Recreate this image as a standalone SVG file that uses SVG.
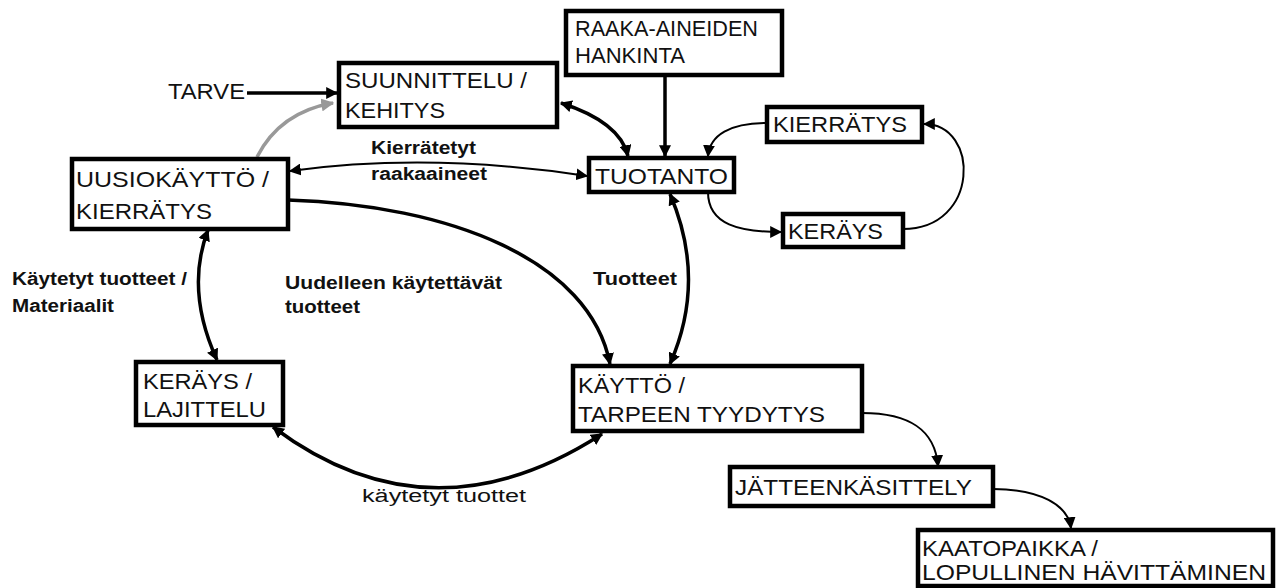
<svg xmlns="http://www.w3.org/2000/svg" width="1285" height="588" viewBox="0 0 1285 588">
<defs>
<style>
.box{fill:#fff;stroke:#000;stroke-width:4.5}
.nt{font-family:"Liberation Sans",Arial,sans-serif;font-size:22px;fill:#111}
.lb{font-family:"Liberation Sans",Arial,sans-serif;font-size:18px;font-weight:bold;fill:#111}
.lr{font-family:"Liberation Sans",Arial,sans-serif;font-size:18px;fill:#111}
.c{fill:none;stroke:#000}
.w3{stroke-width:3.5}
.w2{stroke-width:2}
.g{stroke:#999;stroke-width:3.5}
</style>
<marker id="a" viewBox="0 0 10 10" refX="9" refY="5" markerWidth="12" markerHeight="12" markerUnits="userSpaceOnUse" orient="auto-start-reverse"><path d="M0,0 L10,5 L0,10 z" fill="#000"/></marker>
<marker id="ag" viewBox="0 0 10 10" refX="9" refY="5" markerWidth="13" markerHeight="13" markerUnits="userSpaceOnUse" orient="auto"><path d="M0,0 L10,5 L0,10 z" fill="#999"/></marker>
</defs>
<rect width="1285" height="588" fill="#fff"/>

<g id="connectors">
<path class="c w3" d="M247,93 L337,93" marker-end="url(#a)"/>
<path class="g c" d="M257,157 Q280,112 333,103" marker-end="url(#ag)"/>
<path class="c w3" d="M561,103 Q620,122 628,156" marker-start="url(#a)" marker-end="url(#a)"/>
<path class="c w3" d="M665,75 L665,156" marker-end="url(#a)"/>
<path class="c w2" d="M767,123 C730,123 710,135 708,156" marker-end="url(#a)"/>
<path class="c w2" d="M708,192 C708,225 740,232 781,232" marker-end="url(#a)"/>
<path class="c w2" d="M903,229 C980,229 980,124 924,124" marker-end="url(#a)"/>
<path class="c w2" d="M290,171 Q430,152 587,176" marker-start="url(#a)" marker-end="url(#a)"/>
<path class="c w3" d="M288,200 C450,205 590,260 610,364" marker-end="url(#a)"/>
<path class="c w3" d="M670,194 Q707,280 670,364" marker-start="url(#a)" marker-end="url(#a)"/>
<path class="c w3" d="M208,230 Q185,290 217,360" marker-start="url(#a)" marker-end="url(#a)"/>
<path class="c w3" d="M273,427 Q430,545 602,434" marker-start="url(#a)" marker-end="url(#a)"/>
<path class="c w2" d="M862,413 C910,413 935,430 938,466" marker-end="url(#a)"/>
<path class="c w2" d="M993,489 C1040,489 1068,505 1071,528" marker-end="url(#a)"/>
</g>

<g id="tarve"><text class="nt" x="168" y="99" textLength="77" lengthAdjust="spacingAndGlyphs">TARVE</text></g>

<g id="suunnittelu">
<rect class="box" x="339" y="63" width="218" height="64"/>
<text class="nt" x="345" y="88" textLength="182" lengthAdjust="spacingAndGlyphs">SUUNNITTELU /</text>
<text class="nt" x="345" y="118" textLength="100" lengthAdjust="spacingAndGlyphs">KEHITYS</text>
</g>

<g id="raaka">
<rect class="box" x="566" y="11" width="216" height="64"/>
<text class="nt" x="575" y="36" textLength="183" lengthAdjust="spacingAndGlyphs">RAAKA-AINEIDEN</text>
<text class="nt" x="575" y="63" textLength="110" lengthAdjust="spacingAndGlyphs">HANKINTA</text>
</g>

<g id="tuotanto">
<rect class="box" x="589" y="158" width="145" height="34"/>
<text class="nt" x="595" y="184" textLength="133" lengthAdjust="spacingAndGlyphs">TUOTANTO</text>
</g>

<g id="kierratys2">
<rect class="box" x="767" y="107" width="155" height="35"/>
<text class="nt" x="773" y="132" textLength="134" lengthAdjust="spacingAndGlyphs">KIERRÄTYS</text>
</g>

<g id="kerays2">
<rect class="box" x="783" y="214" width="120" height="33"/>
<text class="nt" x="788" y="239" textLength="95" lengthAdjust="spacingAndGlyphs">KERÄYS</text>
</g>

<g id="uusiokaytto">
<rect class="box" x="72" y="159" width="216" height="70"/>
<text class="nt" x="76" y="187" textLength="193" lengthAdjust="spacingAndGlyphs">UUSIOKÄYTTÖ /</text>
<text class="nt" x="76" y="219" textLength="136" lengthAdjust="spacingAndGlyphs">KIERRÄTYS</text>
</g>

<g id="keraysLajittelu">
<rect class="box" x="136" y="362" width="147" height="63"/>
<text class="nt" x="143" y="389" textLength="109" lengthAdjust="spacingAndGlyphs">KERÄYS /</text>
<text class="nt" x="143" y="417" textLength="123" lengthAdjust="spacingAndGlyphs">LAJITTELU</text>
</g>

<g id="kaytto">
<rect class="box" x="573" y="366" width="289" height="65"/>
<text class="nt" x="578" y="393" textLength="107" lengthAdjust="spacingAndGlyphs">KÄYTTÖ /</text>
<text class="nt" x="578" y="422" textLength="247" lengthAdjust="spacingAndGlyphs">TARPEEN TYYDYTYS</text>
</g>

<g id="jatteenkasittely">
<rect class="box" x="730" y="467" width="263" height="39"/>
<text class="nt" x="735" y="495" textLength="237" lengthAdjust="spacingAndGlyphs">JÄTTEENKÄSITTELY</text>
</g>

<g id="kaatopaikka">
<rect class="box" x="918" y="530" width="355" height="56"/>
<text class="nt" x="922" y="556" textLength="176" lengthAdjust="spacingAndGlyphs">KAATOPAIKKA /</text>
<text class="nt" x="922" y="580" textLength="344" lengthAdjust="spacingAndGlyphs">LOPULLINEN HÄVITTÄMINEN</text>
</g>

<g id="labels">
<text class="lb" x="371" y="154" textLength="105" lengthAdjust="spacingAndGlyphs">Kierrätetyt</text>
<text class="lb" x="371" y="180" textLength="116" lengthAdjust="spacingAndGlyphs">raakaaineet</text>
<text class="lb" x="12" y="285" textLength="175" lengthAdjust="spacingAndGlyphs">Käytetyt tuotteet /</text>
<text class="lb" x="12" y="312" textLength="102" lengthAdjust="spacingAndGlyphs">Materiaalit</text>
<text class="lb" x="285" y="289" textLength="217" lengthAdjust="spacingAndGlyphs">Uudelleen käytettävät</text>
<text class="lb" x="285" y="313" textLength="75" lengthAdjust="spacingAndGlyphs">tuotteet</text>
<text class="lb" x="593" y="285" textLength="84" lengthAdjust="spacingAndGlyphs">Tuotteet</text>
<text class="lr" x="362" y="502" textLength="164" lengthAdjust="spacingAndGlyphs">käytetyt tuottet</text>
</g>
</svg>
